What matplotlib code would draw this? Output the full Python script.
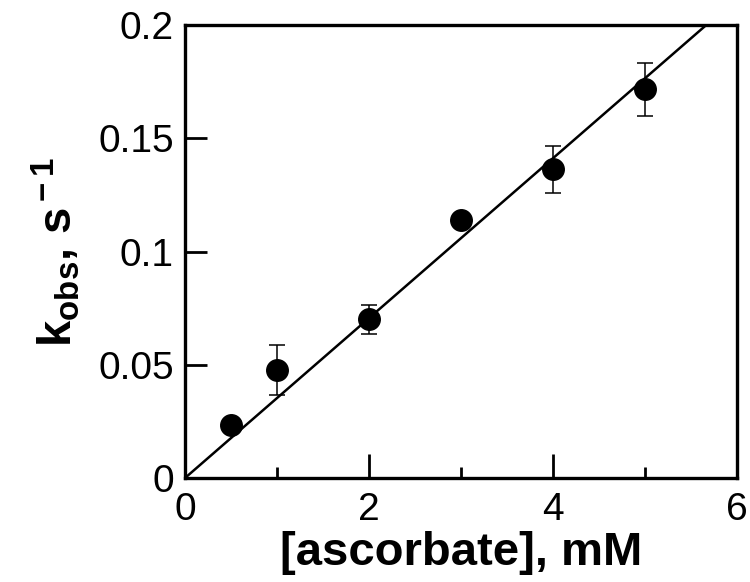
import numpy as np
import matplotlib
matplotlib.use("Agg")
import matplotlib.pyplot as plt
from matplotlib.ticker import MultipleLocator, FormatStrFormatter

plt.rcParams['font.family'] = ['Liberation Sans', 'DejaVu Sans']
plt.rcParams['mathtext.fontset'] = 'custom'
plt.rcParams['mathtext.rm'] = 'Liberation Sans:bold'
plt.rcParams['mathtext.it'] = 'Liberation Sans:bold'
plt.rcParams['mathtext.bf'] = 'Liberation Sans:bold'

# data
ascorbate = [0.5, 1, 2, 3, 4, 5]
kobs = [0.0235, 0.0478, 0.070, 0.114, 0.1363, 0.1717]
kobs_err = [0, 0.011, 0.0065, 0, 0.0105, 0.0117]
slope = 0.0353  # linear fit through origin

fig = plt.figure(figsize=(7.5, 5.82), dpi=100)
ax = fig.add_axes([0.2467, 0.1787, 0.736, 0.7783])

xfit = np.array([0, 6])
ax.plot(xfit, slope * xfit, color='black', lw=1.8)
ax.errorbar(ascorbate, kobs, yerr=kobs_err, fmt='o', color='black',
            ms=15.5, elinewidth=1.1, capsize=6, capthick=1.1)

ax.set_xlim(0, 6)
ax.set_ylim(0, 0.2)
ax.xaxis.set_major_locator(MultipleLocator(2))
ax.xaxis.set_minor_locator(MultipleLocator(1))
ax.yaxis.set_major_locator(MultipleLocator(0.05))
ax.yaxis.set_major_formatter(FormatStrFormatter('%g'))

for s in ax.spines.values():
    s.set_linewidth(2.4)
ax.tick_params(which='major', direction='in', length=16, width=2, labelsize=28)
ax.tick_params(axis='x', which='major', length=17, pad=10)
ax.tick_params(axis='x', which='minor', direction='in', length=8, width=2)
ax.tick_params(axis='y', which='major', pad=8)

ax.set_xlabel('[ascorbate], mM', fontsize=34, fontweight='bold', labelpad=2)
ax.set_ylabel(r'k$_{\rm obs}$, s$^{\rm -1}$', fontsize=34, fontweight='bold', labelpad=12)

fig.savefig('out.png', dpi=100)
